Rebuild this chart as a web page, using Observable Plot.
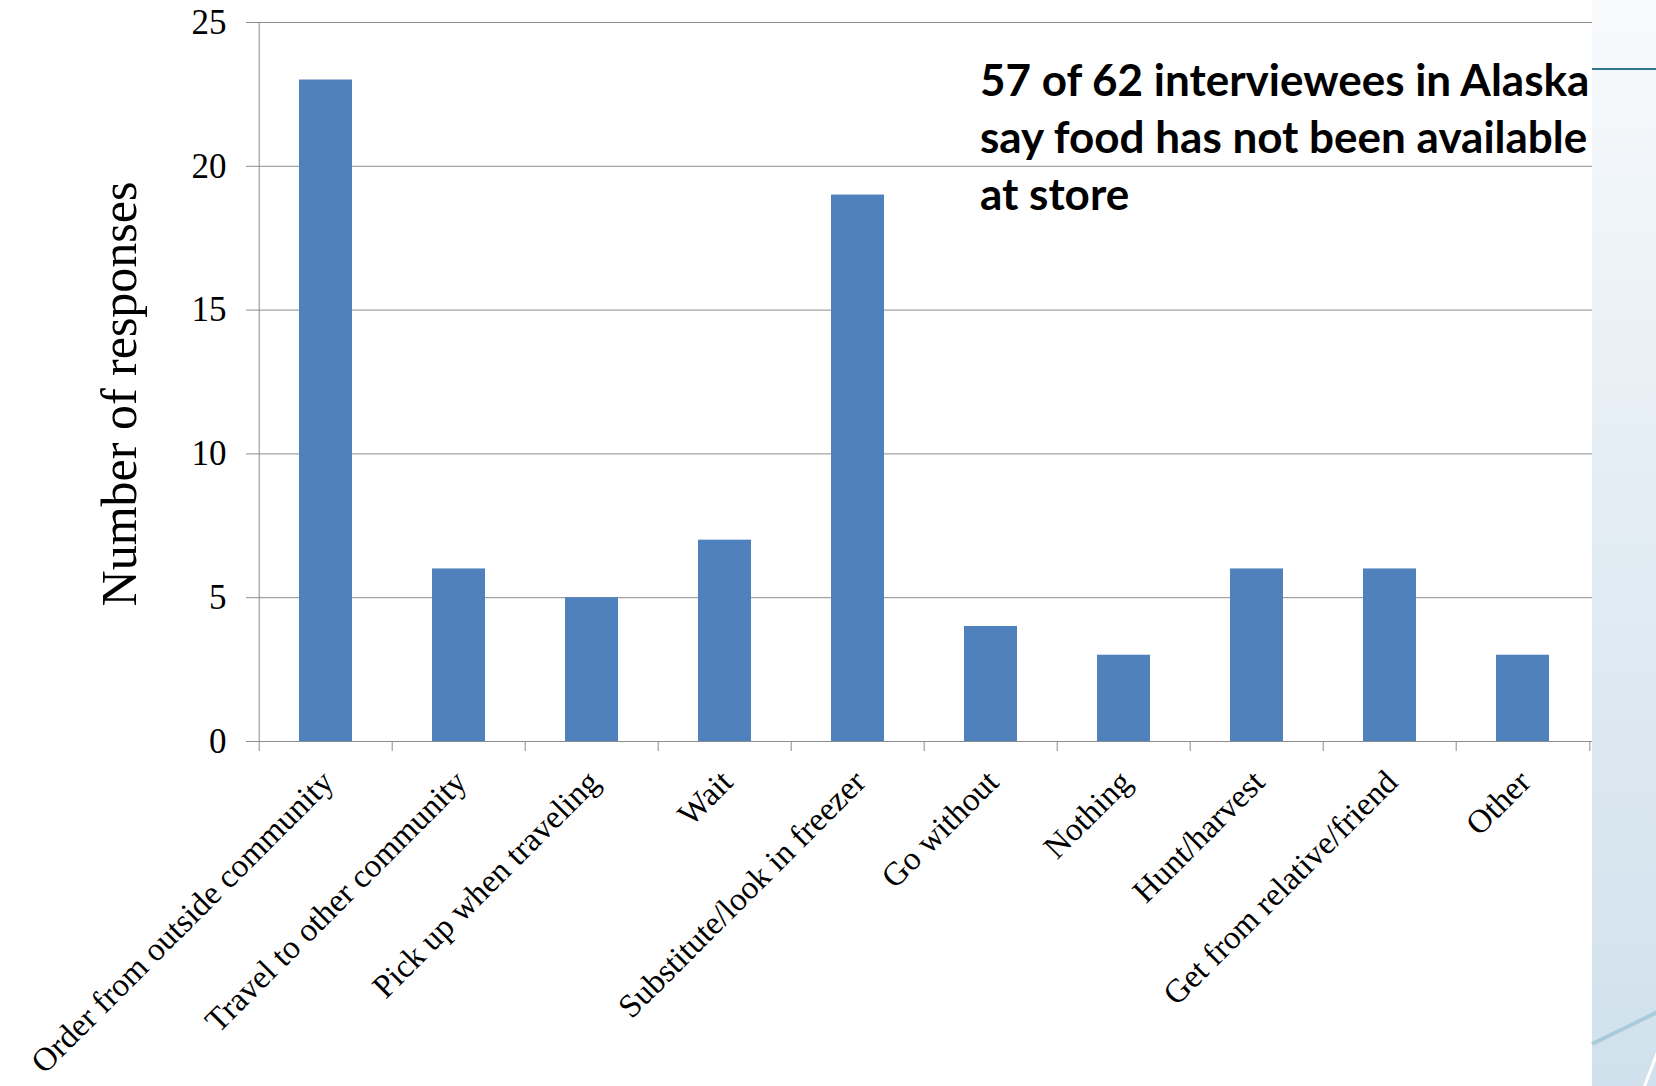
<!DOCTYPE html>
<html>
<head>
<meta charset="utf-8">
<script src="https://cdn.jsdelivr.net/npm/d3@7"></script>
<script src="https://cdn.jsdelivr.net/npm/@observablehq/plot@0.6"></script>
<style>
  html, body { margin: 0; padding: 0; background: #ffffff; }
  #wrap { position: relative; width: 1656px; height: 1086px; overflow: hidden; background: #ffffff; }
  #panel { position: absolute; left: 1592px; top: 0; width: 64px; height: 1086px;
           background: linear-gradient(to bottom, #f8fafc 0%, #e4edf4 45%, #d0e1ed 100%); }
  #tealLine { position: absolute; left: 1592px; top: 68px; width: 64px; height: 2px; background: #2f7590; }
  #diag { position: absolute; left: 1592px; top: 1042px; width: 75px; height: 4px; background: #a9ccdb;
          transform: rotate(-26deg); transform-origin: left center; }
  #diag2 { position: absolute; left: 1644px; top: 1086px; width: 40px; height: 3px; background: #ffffff;
          transform: rotate(-69deg); transform-origin: left center; }
  #chart { position: absolute; left: 0; top: 0; }
  #note { position: absolute; left: 980px; top: 51px; font-family: Lato, "Open Sans", sans-serif; font-weight: 700;
          font-size: 44px; line-height: 57px; color: #000; white-space: nowrap; }
</style>
</head>
<body>
<div id="wrap">
  <div id="panel"></div>
  <div id="tealLine"></div>
  <div id="diag"></div>
  <div id="diag2"></div>
  <div id="chart"></div>
  <div id="note">57 of 62 interviewees in Alaska<br>say food has not been available<br>at store</div>
</div>
<script>
const categories = [
  "Order from outside community",
  "Travel to other community",
  "Pick up when traveling",
  "Wait",
  "Substitute/look in freezer",
  "Go without",
  "Nothing",
  "Hunt/harvest",
  "Get from relative/friend",
  "Other"
];
const values = [23, 6, 5, 7, 19, 4, 3, 6, 6, 3];
const yTicks = [0, 5, 10, 15, 20, 25];
const yLabel = "Number of responses";

const data = categories.map((c, i) => ({category: c, value: values[i]}));

const W = 1656, H = 1086;
const mL = 256, mR = 64, mT = 22, mB = 345;
const half = (W - mL - mR) / categories.length / 2;
const grey = "#8c8c8c";

const chart = Plot.plot({
  width: W,
  height: H,
  marginLeft: mL,
  marginRight: mR,
  marginTop: mT,
  marginBottom: mB,
  style: {fontFamily: "'Liberation Serif', 'Times New Roman', serif", background: "transparent", color: "#000"},
  x: {domain: categories, paddingInner: 0.6, paddingOuter: 0.3, label: null},
  y: {domain: [0, 25], label: null},
  marks: [
    Plot.gridY(yTicks, {stroke: grey, strokeOpacity: 1, strokeWidth: 1}),
    Plot.barY(data, {x: "category", y: "value", fill: "#4f81bd"}),
    Plot.ruleY([0], {stroke: grey, strokeWidth: 1}),
    Plot.ruleX([categories[0]], {x: d => d, dx: -half, y1: 0, y2: 25, stroke: grey}),
    Plot.axisY({ticks: yTicks, tickSize: 10, tickPadding: 20, fontSize: 35, stroke: grey, label: null}),
    Plot.axisX({tickSize: 10, dx: -half, stroke: grey, tickFormat: () => "", label: null}),
    Plot.axisX({ticks: [categories[categories.length - 1]], tickSize: 10, dx: half, stroke: grey, tickFormat: () => "", label: null}),
    Plot.axisX({tickSize: 0, tickPadding: 35, dx: 2, tickRotate: -45, fontSize: 33, label: null}),
    Plot.text([yLabel], {frameAnchor: "left", textAnchor: "middle", rotate: -90, dx: -137, dy: 12, fontSize: 50, fill: "#000"})
  ]
});
document.getElementById("chart").appendChild(chart);
</script>
</body>
</html>
